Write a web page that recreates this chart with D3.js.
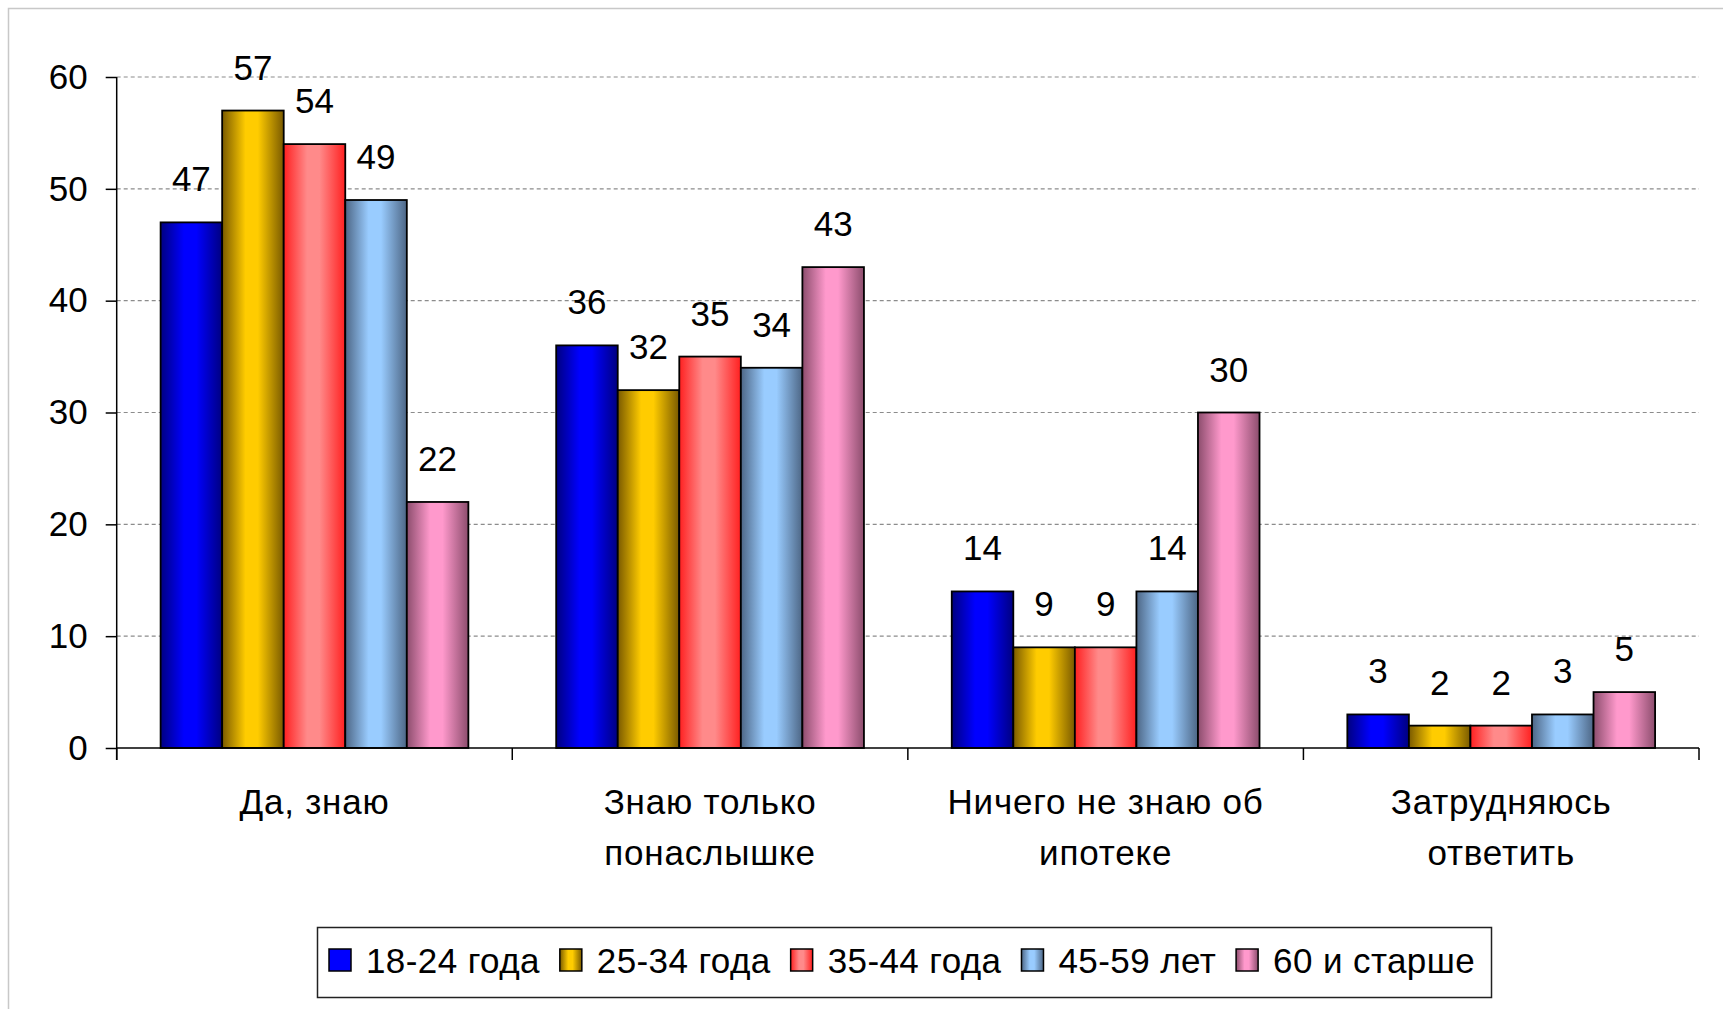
<!DOCTYPE html>
<html>
<head>
<meta charset="utf-8">
<script src="https://cdn.jsdelivr.net/npm/d3@7"></script>
<style>
    body { margin: 0; background: #fff; }
    text { font-family: "Liberation Sans", Arial, sans-serif; fill: #000; }
</style>
</head>
<body>
<div id="chart"></div>
<script>
// categories (two lines each) and series
var categories = ["Да, знаю", "Знаю только понаслышке", "Ничего не знаю об ипотеке", "Затрудняюсь ответить"];
var categoryLines = [["Да, знаю"], ["Знаю только", "понаслышке"], ["Ничего не знаю об", "ипотеке"], ["Затрудняюсь", "ответить"]];
var seriesNames = ["18-24 года", "25-34 года", "35-44 года", "45-59 лет", "60 и старше"];
var s1824 = [47, 36, 14, 3];
var s2534 = [57, 32, 9, 2];
var s3544 = [54, 35, 9, 2];
var s4559 = [49, 34, 14, 3];
var s60 = [22, 43, 30, 5];
var yTicks = [0, 10, 20, 30, 40, 50, 60];

var seriesValues = [s1824, s2534, s3544, s4559, s60];
// [edge, centre] colours for the cylinder-like gradient
var seriesColors = [
    ["#000080", "#0000ff"],
    ["#7a5a00", "#ffcc00"],
    ["#ff2020", "#ff8a8a"],
    ["#4d6685", "#99ccff"],
    ["#8c4d6d", "#ff99cc"]
];

(function() {
    var W = 1723, H = 1009;
    var plotLeft = 116.7, plotRight = 1699, plotTop = 77, plotBottom = 748;

    var svg = d3.select("#chart").append("svg")
        .attr("width", W)
        .attr("height", H);

    var defs = svg.append("defs");
    seriesColors.forEach(function(c, i) {
        var g = defs.append("linearGradient")
            .attr("id", "grad" + i)
            .attr("x1", "0%").attr("x2", "100%")
            .attr("y1", "0%").attr("y2", "0%");
        g.append("stop").attr("offset", "0%").attr("stop-color", c[0]);
        g.append("stop").attr("offset", "38%").attr("stop-color", c[1]);
        g.append("stop").attr("offset", "58%").attr("stop-color", c[1]);
        g.append("stop").attr("offset", "100%").attr("stop-color", c[0]);
    });

    // outer frame (only top and left visible in the original crop)
    svg.append("path")
        .attr("d", "M8.5," + H + "V8.5H" + W)
        .attr("fill", "none")
        .attr("stroke", "#c8c8c8")
        .attr("stroke-width", 1.5);

    var y = d3.scaleLinear().domain([0, 60]).range([plotBottom, plotTop]);

    var x0 = d3.scaleBand()
        .domain(categories)
        .range([plotLeft, plotRight])
        .paddingInner(0.222)
        .paddingOuter(0.111);

    var x1 = d3.scaleBand()
        .domain(seriesNames)
        .range([0, x0.bandwidth()]);

    // gridlines
    svg.append("g")
        .selectAll("line")
        .data(yTicks.filter(function(d) { return d > 0; }))
        .enter().append("line")
            .attr("x1", plotLeft)
            .attr("x2", plotRight)
            .attr("y1", function(d) { return y(d); })
            .attr("y2", function(d) { return y(d); })
            .attr("stroke", "#8c8c8c")
            .attr("stroke-width", 1.2)
            .attr("stroke-dasharray", "4,3");

    // y axis
    var yAxis = svg.append("g")
        .attr("transform", "translate(" + plotLeft + ",0)")
        .call(d3.axisLeft(y).tickValues(yTicks).tickSize(11).tickPadding(18));
    yAxis.select(".domain").remove();
    yAxis.selectAll(".tick line").attr("stroke", "#000").attr("stroke-width", 1.5);
    yAxis.selectAll(".tick text")
        .style("font-family", "'Liberation Sans', Arial, sans-serif")
        .style("font-size", "35px")
        .attr("fill", "#000");

    svg.append("line")
        .attr("x1", plotLeft).attr("x2", plotLeft)
        .attr("y1", plotTop).attr("y2", plotBottom + 12)
        .attr("stroke", "#000").attr("stroke-width", 1.5);

    // bars
    var groups = svg.append("g")
        .selectAll("g")
        .data(categories)
        .enter().append("g")
            .attr("transform", function(d) { return "translate(" + x0(d) + ",0)"; });

    function cells(d, ci) {
        return seriesNames.map(function(s, si) { return {s: s, si: si, v: seriesValues[si][ci]}; });
    }

    groups.selectAll("rect")
        .data(cells)
        .enter().append("rect")
            .attr("x", function(d) { return x1(d.s); })
            .attr("y", function(d) { return y(d.v); })
            .attr("width", x1.bandwidth())
            .attr("height", function(d) { return plotBottom - y(d.v); })
            .attr("fill", function(d) { return "url(#grad" + d.si + ")"; })
            .attr("stroke", "#000")
            .attr("stroke-width", 1.8);

    groups.selectAll("text")
        .data(cells)
        .enter().append("text")
            .attr("x", function(d) { return x1(d.s) + x1.bandwidth() / 2; })
            .attr("y", function(d) { return y(d.v) - 31; })
            .attr("text-anchor", "middle")
            .style("font-size", "35px")
            .text(function(d) { return d.v; });

    // x axis
    svg.append("line")
        .attr("x1", plotLeft).attr("x2", plotRight)
        .attr("y1", plotBottom).attr("y2", plotBottom)
        .attr("stroke", "#000").attr("stroke-width", 1.5);

    var step = (plotRight - plotLeft) / categories.length;
    svg.append("g")
        .selectAll("line")
        .data(d3.range(categories.length + 1))
        .enter().append("line")
            .attr("x1", function(i) { return plotLeft + i * step; })
            .attr("x2", function(i) { return plotLeft + i * step; })
            .attr("y1", plotBottom)
            .attr("y2", plotBottom + 12)
            .attr("stroke", "#000").attr("stroke-width", 1.5);

    var catLabels = svg.append("g")
        .selectAll("text")
        .data(categories)
        .enter().append("text")
            .attr("text-anchor", "middle")
            .attr("y", 814)
            .style("font-size", "35px")
            .style("letter-spacing", "0.8px");

    catLabels.each(function(d, i) {
        var t = d3.select(this);
        var cx = x0(d) + x0.bandwidth() / 2;
        categoryLines[i].forEach(function(line, li) {
            t.append("tspan")
                .attr("x", cx)
                .attr("dy", li === 0 ? 0 : 51)
                .text(line);
        });
    });

    // legend
    var legend = svg.append("g");
    legend.append("rect")
        .attr("x", 317.5).attr("y", 927.5)
        .attr("width", 1174).attr("height", 70)
        .attr("fill", "#fff")
        .attr("stroke", "#222")
        .attr("stroke-width", 1.5);

    var lx = 329;
    seriesNames.forEach(function(name, i) {
        legend.append("rect")
            .attr("x", lx).attr("y", 949)
            .attr("width", 22).attr("height", 22)
            .attr("fill", i === 0 ? seriesColors[0][1] : "url(#grad" + i + ")")
            .attr("stroke", "#000")
            .attr("stroke-width", 1.5);
        var t = legend.append("text")
            .attr("x", lx + 37)
            .attr("y", 973)
            .style("font-size", "35px")
            .style("letter-spacing", "0.4px")
            .text(name);
        lx += 37 + t.node().getComputedTextLength() + 20;
    });
})();
</script>
</body>
</html>
